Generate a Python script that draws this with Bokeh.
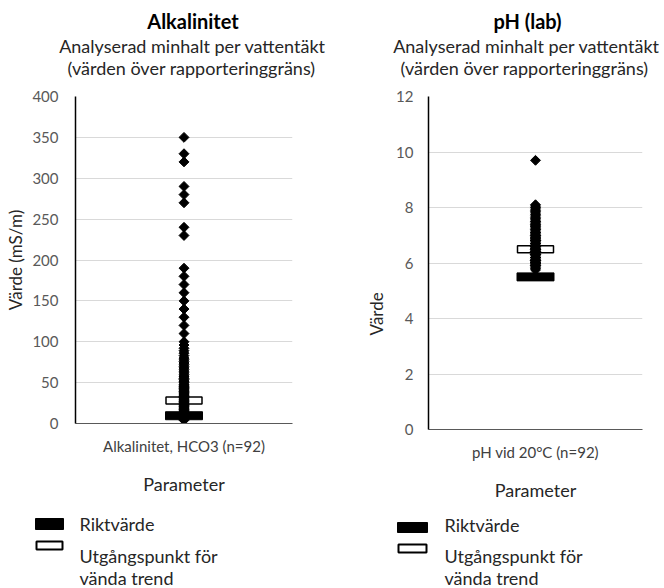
import math
from bokeh.plotting import figure
from bokeh.layouts import row, column
from bokeh.models import Range1d, FactorRange, SingleIntervalTicker, Title
from bokeh.core.properties import value
from bokeh.embed import file_html
from bokeh.resources import INLINE

# ---------------- data ----------------
alk_category = ["Alkalinitet, HCO3 (n=92)"]
alk_values = [350, 330, 320, 290, 280, 270, 240, 230, 190, 180,
              170, 160, 150, 140, 130, 120, 110, 100,
              96, 92, 89, 86, 83, 80, 78, 76, 74, 72,
              70, 68, 66, 64, 62, 60, 58, 57, 55, 54,
              52, 51, 50, 48, 47, 46, 45, 44, 43, 42,
              41, 40, 39, 38, 37, 36, 35, 34, 33, 32,
              31, 30, 29, 28, 27, 26, 25, 24, 23, 22,
              21, 20, 19, 18, 17, 16, 15, 14, 13, 12,
              12, 11, 11, 10, 10, 9, 9, 8, 8, 7,
              7, 6, 5, 4]
alk_riktvarde = [9.5]
alk_utgang = [28]

ph_category = ["pH vid 20°C (n=92)"]
ph_values = [9.7,
             8.1, 8.05, 8.0, 7.95, 7.9, 7.85, 7.8, 7.75, 7.7, 7.65,
             7.6, 7.55, 7.5, 7.45, 7.4, 7.4, 7.35, 7.3, 7.3, 7.25,
             7.2, 7.2, 7.15, 7.1, 7.1, 7.05, 7.0, 7.0, 6.95, 6.9,
             6.9, 6.85, 6.8, 6.8, 6.75, 6.7, 6.7, 6.65, 6.6, 6.6,
             6.55, 6.5, 6.5, 6.5, 6.45, 6.4, 6.4, 6.4, 6.35, 6.3,
             6.3, 6.3, 6.25, 6.2, 6.2, 6.2, 6.15, 6.1, 6.1, 6.1,
             6.05, 6.0, 6.0, 6.0, 5.95, 5.9, 5.9, 5.85, 5.8, 5.75,
             6.0, 6.1, 6.2, 6.3, 6.4, 6.5, 6.6, 6.7, 6.8, 6.9,
             7.0, 6.2, 6.4, 6.6, 6.8, 6.1, 6.3, 6.5, 6.0, 5.9, 7.5]
ph_riktvarde = [5.5]
ph_utgang = [6.5]

legend_rikt = "Riktvärde"
legend_utg_lines = ["Utgångspunkt  för", "vända trend"]
subtitle_lines = ["Analyserad minhalt per vattentäkt", "(värden över rapporteringgräns)"]

FONT = "Lato"
W = 332


def blank(x0, y_top, h):
    """A figure whose frame fills it, with page-pixel data coordinates (y downwards)."""
    q = figure(width=W, height=h, output_backend="svg", toolbar_location=None,
               x_range=Range1d(x0, x0 + W), y_range=Range1d(y_top + h, y_top),
               x_axis_type=None, y_axis_type=None, frame_align=False,
               min_border_left=0, min_border_right=0, min_border_top=0, min_border_bottom=0)
    q.outline_line_color = None
    q.xgrid.grid_line_color = None
    q.ygrid.grid_line_color = None
    return q


def make_titles(x0, title, g):
    q = blank(x0, 0, 80)
    q.text(x=[g["tx"]], y=[g["ty"]], text=[title], text_font=value(FONT), text_font_size="20px",
           text_font_style="bold", text_color="black", text_align="center", text_baseline="middle")
    q.text(x=g["sx"], y=g["sy"], text=subtitle_lines, text_font=value(FONT), text_font_size="18px",
           text_color="#262626", text_align="center", text_baseline="middle")
    return q


def make_legend(x0, g):
    q = blank(x0, 508, 80)
    L = g["leg"]
    q.quad(left=[L["x0"]], right=[L["x1"]], top=[L["b0"]], bottom=[L["b1"]],
           fill_color="black", line_color="black", line_width=1)
    q.quad(left=[L["x0"] + 1], right=[L["x1"] - 1], top=[L["w0"] + 1], bottom=[L["w1"] - 1],
           fill_color="white", line_color="black", line_width=2)
    q.text(x=[L["tx"]] * 3, y=L["ty"], text=[legend_rikt] + legend_utg_lines,
           text_font=value(FONT), text_font_size="18px", text_color="#262626",
           text_align="left", text_baseline="middle")
    return q


def make_chart(cat, values, rikt, utg, ymax, interval, ylabel, g):
    p = figure(width=W, height=428, output_backend="svg", toolbar_location=None,
               x_range=FactorRange(*cat), y_range=Range1d(0, ymax), frame_align=False,
               min_border_left=g["bl"], min_border_right=g["br"],
               min_border_top=16, min_border_bottom=g["bb"])
    p.outline_line_color = None
    p.title.text = ""
    p.xgrid.grid_line_color = None
    p.ygrid.grid_line_color = "#d9d9d9"

    p.yaxis.ticker = SingleIntervalTicker(interval=interval)
    p.yaxis.major_tick_out = 0
    p.yaxis.major_tick_in = 0
    p.yaxis.minor_tick_out = 0
    p.yaxis.minor_tick_in = 0
    p.yaxis.axis_line_color = "black"
    p.yaxis.axis_line_width = 1.5
    p.yaxis.major_label_text_font = FONT
    p.yaxis.major_label_text_font_size = "15px"
    p.yaxis.major_label_text_color = "#595959"
    p.yaxis.major_label_standoff = g["ystand"]
    if g["ytitle"] == "axis":
        p.yaxis.axis_label = ylabel
        p.yaxis.axis_label_text_font = FONT
        p.yaxis.axis_label_text_font_size = "17px"
        p.yaxis.axis_label_text_font_style = "normal"
        p.yaxis.axis_label_text_color = "#262626"
        p.yaxis.axis_label_standoff = g["ylstand"]
    else:
        p.add_layout(Title(text=ylabel, align="left", offset=g["yoff"], standoff=g["ylstand"],
                           text_font=FONT, text_font_size="17px", text_font_style="normal",
                           text_color="#262626"), "left")

    p.xaxis.major_tick_out = 0
    p.xaxis.major_tick_in = 0
    p.xaxis.minor_tick_out = 0
    p.xaxis.minor_tick_in = 0
    p.xaxis.axis_line_color = "#595959"
    p.xaxis.major_label_text_font = FONT
    p.xaxis.major_label_text_font_size = "15px"
    p.xaxis.major_label_text_color = "#404040"
    p.xaxis.major_label_standoff = 13
    p.xaxis.axis_label = "Parameter"
    p.xaxis.axis_label_text_font = FONT
    p.xaxis.axis_label_text_font_size = "18px"
    p.xaxis.axis_label_text_font_style = "normal"
    p.xaxis.axis_label_text_color = "#262626"
    p.xaxis.axis_label_standoff = 15

    p.rect(x=cat, y=rikt, width=37, height=8, width_units="screen", height_units="screen",
           fill_color="black", line_color="black")
    p.rect(x=cat, y=utg, width=36, height=7, width_units="screen", height_units="screen",
           fill_color="white", line_color="black", line_width=1.5)
    p.scatter(x=[cat[0]] * len(values), y=values, marker="square", angle=math.pi / 4,
              size=7, fill_color="black", line_color="black")
    return p


g_left = dict(bl=75, br=40, bb=85, ystand=17, ytitle="axis", ylstand=3,
              tx=192.5, ty=20, sx=[192, 191], sy=[45, 67],
              leg=dict(x0=35, x1=63, b0=518, b1=529, w0=540, w1=550, tx=79, ty=[523, 555, 577]))
g_right = dict(bl=96, br=22, bb=79, ystand=15, ytitle="title", ylstand=14, yoff=94,
               tx=527, ty=20, sx=[526, 524], sy=[45, 67],
               leg=dict(x0=397, x1=427, b0=522, b1=532, w0=543, w1=553, tx=444, ty=[524, 555, 577]))

p1 = make_chart(alk_category, alk_values, alk_riktvarde, alk_utgang, 400, 50, "Värde (mS/m)", g_left)
p2 = make_chart(ph_category, ph_values, ph_riktvarde, ph_utgang, 12, 2, "Värde", g_right)

col1 = column(make_titles(0, "Alkalinitet", g_left), p1, make_legend(0, g_left))
col2 = column(make_titles(W, "pH (lab)", g_right), p2, make_legend(W, g_right))

layout = row(col1, col2)
open("out.html", "w").write(file_html(layout, INLINE))
